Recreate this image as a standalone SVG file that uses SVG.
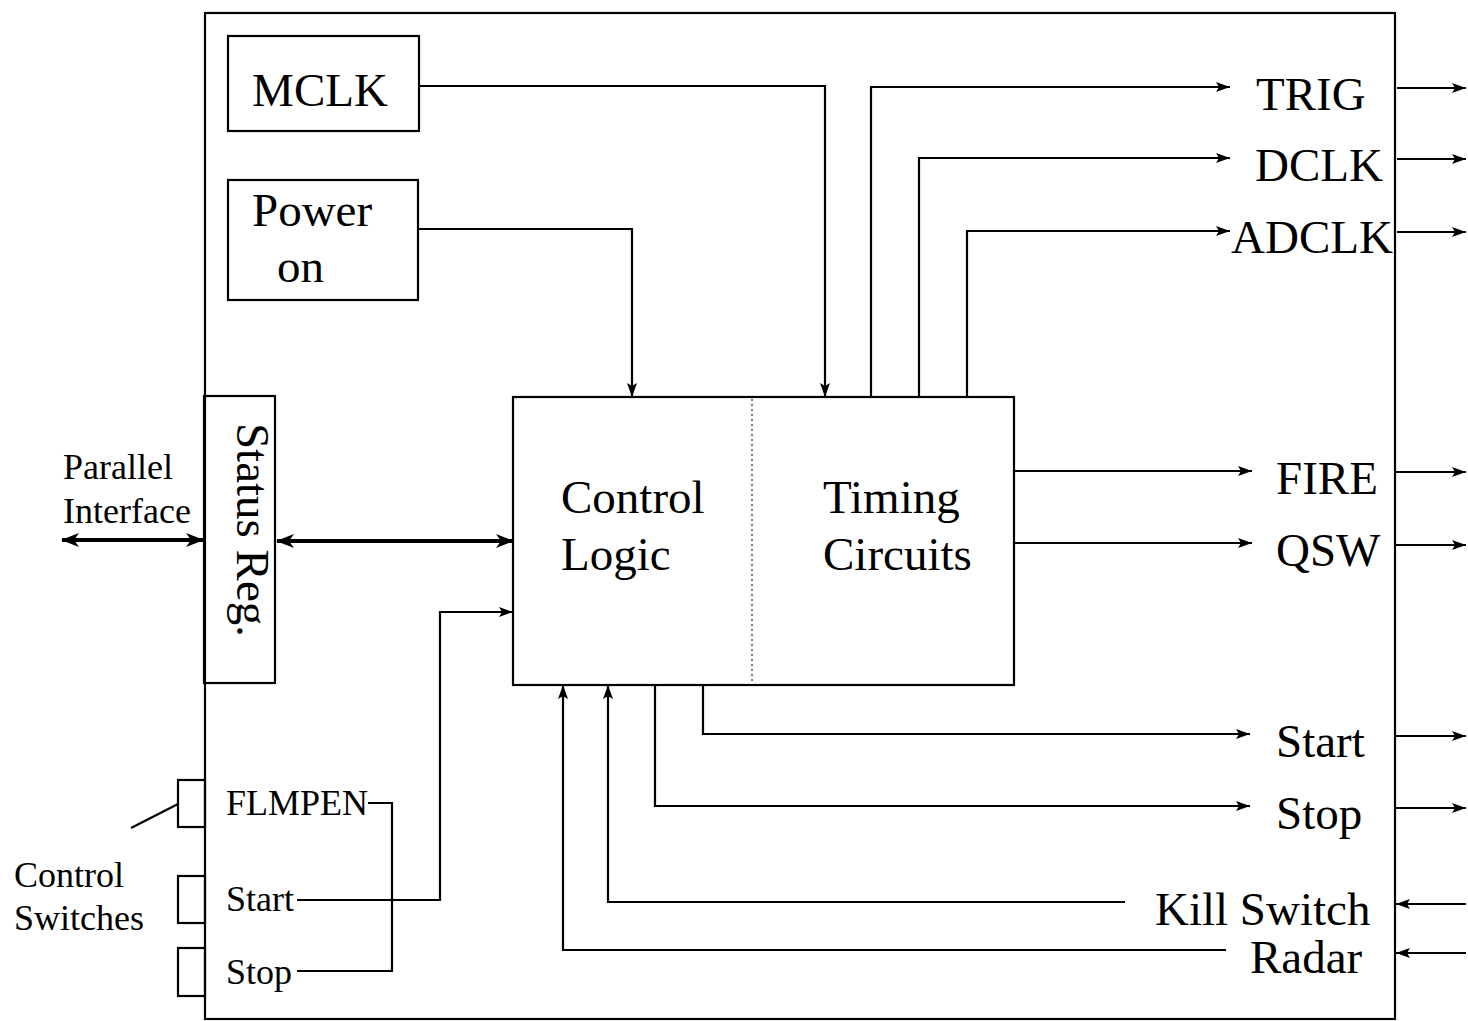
<svg xmlns="http://www.w3.org/2000/svg" width="1468" height="1021" viewBox="0 0 1468 1021">
<defs>
<marker id="ah" viewBox="0 0 14 10" refX="14" refY="5" markerWidth="14" markerHeight="10" markerUnits="userSpaceOnUse" orient="auto-start-reverse">
<path d="M0,0 L14,5 L0,10 L3,5 Z" fill="#000"/>
</marker>
<marker id="ahb" viewBox="0 0 18 14" refX="17" refY="7" markerWidth="18" markerHeight="14" markerUnits="userSpaceOnUse" orient="auto-start-reverse">
<path d="M0,0 L18,7 L0,14 L5,7 Z" fill="#000"/>
</marker>
</defs>
<style>
.box{fill:none;stroke:#000;stroke-width:2.2}
.ln{fill:none;stroke:#000;stroke-width:2.2}
.arr{fill:none;stroke:#000;stroke-width:2.2;marker-end:url(#ah)}
.bus{fill:none;stroke:#000;stroke-width:4;marker-start:url(#ahb);marker-end:url(#ahb)}
.big{font-family:"Liberation Serif","Times New Roman",serif;font-size:47px;fill:#000}
.sm{font-family:"Liberation Serif","Times New Roman",serif;font-size:36px;fill:#000}
</style>
<rect width="1468" height="1021" fill="#fff"/>
<g id="outer"><rect class="box" x="205" y="13" width="1190" height="1006"/></g>
<g id="mclk"><rect class="box" x="228" y="36" width="191" height="95"/><text class="big" x="320" y="106" text-anchor="middle">MCLK</text></g>
<g id="power"><rect class="box" x="228" y="180" width="190" height="120"/><text class="big" x="252" y="226">Power</text><text class="big" x="277" y="282">on</text></g>
<g id="status"><rect class="box" x="204" y="396" width="71" height="287"/><text class="big" transform="translate(237,530) rotate(90)" text-anchor="middle">Status Reg.</text></g>
<g id="control"><rect class="box" x="513" y="397" width="501" height="288"/><line x1="752" y1="399" x2="752" y2="683" stroke="#000" stroke-width="1" stroke-dasharray="2,3"/>
<text class="big" x="561" y="513">Control</text><text class="big" x="561" y="570">Logic</text>
<text class="big" x="823" y="513">Timing</text><text class="big" x="823" y="570">Circuits</text></g>
<g id="switches"><rect class="box" x="178" y="780" width="27" height="47"/><rect class="box" x="178" y="876" width="27" height="47"/><rect class="box" x="178" y="948" width="27" height="48"/>
<line class="ln" x1="131" y1="828" x2="178" y2="804"/>
<text class="sm" x="14" y="887">Control</text><text class="sm" x="14" y="930">Switches</text>
<text class="sm" x="226" y="815">FLMPEN</text><text class="sm" x="226" y="911">Start</text><text class="sm" x="226" y="984">Stop</text></g>
<g id="parallel"><text class="sm" x="63" y="479">Parallel</text><text class="sm" x="63" y="523">Interface</text></g>
<g id="labels">
<text class="big" x="1256" y="110">TRIG</text>
<text class="big" x="1255" y="181">DCLK</text>
<text class="big" x="1231" y="253">ADCLK</text>
<text class="big" x="1276" y="494">FIRE</text>
<text class="big" x="1276" y="566">QSW</text>
<text class="big" x="1276" y="757">Start</text>
<text class="big" x="1276" y="829">Stop</text>
<text class="big" x="1155" y="925">Kill Switch</text>
<text class="big" x="1250" y="973">Radar</text>
</g>
<g id="connectors">
<polyline class="arr" points="419,86 825,86 825,397"/>
<polyline class="arr" points="419,229 632,229 632,397"/>
<polyline class="arr" points="871,397 871,87 1230,87"/>
<polyline class="arr" points="919,397 919,158 1230,158"/>
<polyline class="arr" points="967,397 967,231 1230,231"/>
<line class="arr" x1="1014" y1="471" x2="1252" y2="471"/>
<line class="arr" x1="1014" y1="543" x2="1252" y2="543"/>
<polyline class="arr" points="703,685 703,734 1250,734"/>
<polyline class="arr" points="655,685 655,806 1250,806"/>
<polyline class="arr" points="1125,902 608,902 608,685"/>
<polyline class="arr" points="1226,950 563,950 563,685"/>
<line class="arr" x1="1397" y1="88" x2="1466" y2="88"/>
<line class="arr" x1="1397" y1="159" x2="1466" y2="159"/>
<line class="arr" x1="1397" y1="232" x2="1466" y2="232"/>
<line class="arr" x1="1396" y1="472" x2="1466" y2="472"/>
<line class="arr" x1="1396" y1="545" x2="1466" y2="545"/>
<line class="arr" x1="1396" y1="736" x2="1466" y2="736"/>
<line class="arr" x1="1396" y1="808" x2="1466" y2="808"/>
<line class="arr" x1="1466" y1="904" x2="1396" y2="904"/>
<line class="arr" x1="1466" y1="953" x2="1396" y2="953"/>
<line class="bus" x1="62" y1="540" x2="203" y2="540"/>
<line class="bus" x1="277" y1="541" x2="513" y2="541"/>
<polyline class="arr" points="297,900 440,900 440,612 513,612"/>
<polyline class="ln" points="368,803 392,803 392,971 297,971"/>
</g>
</svg>
